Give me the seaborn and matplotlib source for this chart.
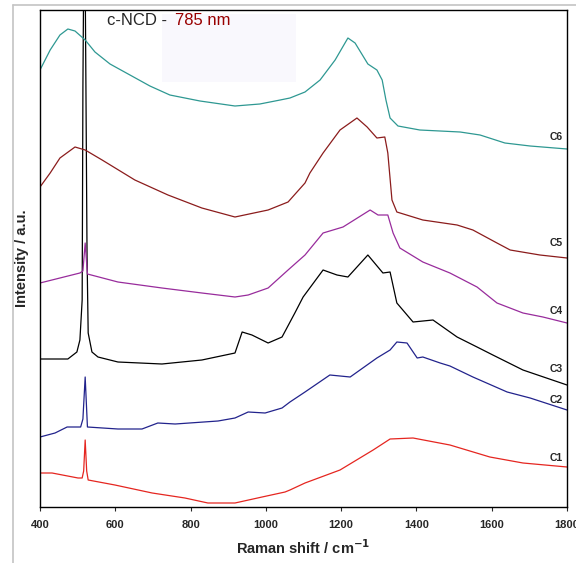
import pandas as pd
import seaborn as sns
import matplotlib.pyplot as plt
from matplotlib.patches import Rectangle
from matplotlib.lines import Line2D

sns.set_style("white")
plt.rcParams['font.family'] = ['Liberation Sans', 'DejaVu Sans']

# Raman spectra (shift in cm-1, intensity in arbitrary units)
c6_shift = [400, 427, 453, 474, 493, 520, 546, 586, 639, 692, 745, 825, 918, 984, 1038, 1064, 1104, 1144,
            1184, 1218, 1237, 1271, 1295, 1309, 1319, 1330, 1351, 1409, 1516, 1569, 1635, 1702, 1800]
c6_int = [437, 457, 472, 478, 476, 467, 455, 443, 432, 421, 412, 406, 401, 403, 407, 409, 415, 427,
          447, 469, 464, 443, 437, 427, 407, 389, 381, 377, 375, 372, 364, 361, 358]

c5_shift = [400, 427, 453, 493, 520, 565, 652, 740, 830, 918, 1006, 1059, 1104, 1117, 1152, 1197, 1242,
            1269, 1295, 1316, 1324, 1335, 1348, 1417, 1508, 1550, 1614, 1649, 1728, 1800]
c5_int = [320, 334, 349, 360, 357, 347, 327, 312, 299, 290, 297, 305, 324, 334, 354, 377, 389,
          380, 369, 370, 354, 307, 295, 287, 282, 277, 264, 257, 252, 249]

c4_shift = [400, 506, 514, 520, 526, 607, 724, 830, 918, 953, 1006, 1059, 1104, 1152, 1205, 1277, 1298,
            1324, 1338, 1356, 1417, 1489, 1561, 1614, 1683, 1736, 1800]
c4_int = [224, 234, 236, 264, 233, 225, 219, 214, 210, 212, 219, 237, 252, 274, 280, 297, 292,
          292, 274, 259, 245, 234, 220, 204, 194, 190, 184]

c3_shift = [400, 474, 498, 506, 512, 514, 518, 522, 525, 528, 538, 554, 607, 724, 830, 918, 937, 963,
            1006, 1043, 1077, 1099, 1152, 1189, 1218, 1271, 1311, 1330, 1348, 1391, 1444, 1508, 1561,
            1603, 1683, 1800]
c3_int = [148, 148, 155, 167, 207, 420, 640, 420, 250, 174, 155, 150, 145, 143, 147, 154, 175, 172,
          164, 170, 194, 210, 237, 232, 230, 252, 234, 235, 204, 185, 187, 170, 160,
          152, 137, 122]

c2_shift = [400, 440, 472, 508, 514, 520, 526, 607, 671, 713, 759, 873, 918, 953, 998, 1043, 1064, 1104,
            1170, 1224, 1295, 1330, 1348, 1375, 1402, 1417, 1463, 1489, 1550, 1641, 1702, 1800]
c2_int = [70, 74, 80, 80, 88, 130, 80, 78, 78, 84, 83, 86, 89, 95, 94, 99, 105, 115,
          132, 130, 149, 157, 165, 164, 149, 150, 144, 141, 130, 115, 109, 97]

c1_shift = [400, 432, 501, 512, 516, 520, 524, 528, 599, 698, 785, 846, 918, 990, 1051, 1064, 1104, 1197,
            1285, 1330, 1391, 1489, 1595, 1683, 1800]
c1_int = [34, 34, 29, 29, 36, 67, 36, 27, 22, 14, 9, 4, 4, 10, 15, 17, 24, 37,
          57, 68, 69, 62, 50, 44, 40]

samples = ['C1', 'C2', 'C3', 'C4', 'C5', 'C6']
colors = ['#e52620', '#22238c', '#000000', '#982c9c', '#8b1c1c', '#2e9892']
label_y = [49, 107, 138, 196, 264, 370]
ticks = [400, 600, 800, 1000, 1200, 1400, 1600, 1800]

frames = []
for name, s, i in [('C1', c1_shift, c1_int), ('C2', c2_shift, c2_int), ('C3', c3_shift, c3_int),
                   ('C4', c4_shift, c4_int), ('C5', c5_shift, c5_int), ('C6', c6_shift, c6_int)]:
    frames.append(pd.DataFrame({'shift': s, 'intensity': i, 'sample': name}))
df = pd.concat(frames, ignore_index=True)

fig = plt.figure(figsize=(5.76, 5.63), dpi=100)
ax = fig.add_axes([40 / 576, 56 / 563, 527 / 576, 497 / 563])

# faint box behind the title
ax.add_patch(Rectangle((122 / 527, 1 - 72 / 497), 134 / 527, 68 / 497, transform=ax.transAxes,
                       facecolor='#f9f8fd', edgecolor='none', zorder=0))

sns.lineplot(data=df, x='shift', y='intensity', hue='sample', hue_order=samples,
             palette=dict(zip(samples, colors)), estimator=None, sort=False,
             legend=False, lw=0.9, ax=ax)

for name, y in zip(samples, label_y):
    ax.text(1788, y, name, ha='right', va='center', fontsize=7.5, fontweight='bold')

ax.text(0.128, 0.978, 'c-NCD - ', transform=ax.transAxes, ha='left', va='center', fontsize=12)
ax.text(0.257, 0.978, '785 nm', transform=ax.transAxes, ha='left', va='center', fontsize=12,
        color='#990000')

ax.set_xlim(400, 1800)
ax.set_ylim(0, 497)
ax.set_xticks(ticks)
ax.set_xticklabels([str(t) for t in ticks], fontweight='bold', fontsize=8)
ax.set_yticks([])
ax.tick_params(axis='x', direction='out', length=3, width=0.8, bottom=True, pad=6)
for sp in ax.spines.values():
    sp.set_color('black')
    sp.set_linewidth(1.0)

ax.set_xlabel('Raman shift / cm$^{\\mathbf{-1}}$', fontsize=10.5, fontweight='bold', labelpad=6)
ax.set_ylabel('Intensity / a.u.', fontsize=10.5, fontweight='bold', labelpad=8)

# thin grey outer frame
fig.add_artist(Line2D([13 / 576, 1], [1 - 5 / 563, 1 - 5 / 563], color='#c4c4c4', lw=1.2))
fig.add_artist(Line2D([13 / 576, 13 / 576], [0, 1 - 5 / 563], color='#c4c4c4', lw=1.2))

fig.savefig('out.png', dpi=100)
